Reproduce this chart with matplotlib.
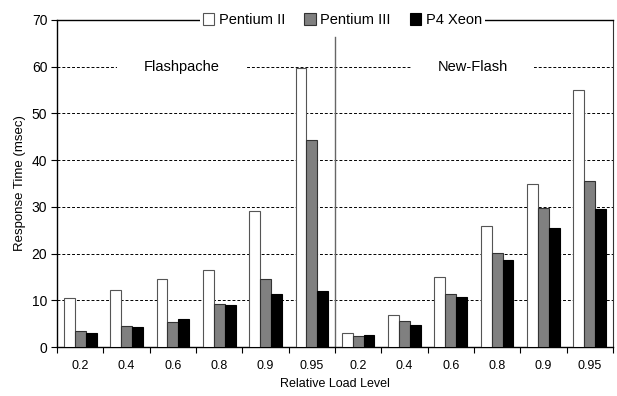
import matplotlib
matplotlib.use("Agg")
import matplotlib.pyplot as plt
import numpy as np

plt.rcParams['font.family'] = ['Liberation Sans', 'DejaVu Sans']

load_levels = ["0.2", "0.4", "0.6", "0.8", "0.9", "0.95"]
groups = ["Flashpache", "New-Flash"]
series_names = ["Pentium II", "Pentium III", "P4 Xeon"]

flashpache_p2 = [10.4, 12.3, 14.6, 16.4, 29.1, 59.7]
flashpache_p3 = [3.5, 4.4, 5.4, 9.3, 14.6, 44.4]
flashpache_p4 = [2.9, 4.2, 5.9, 8.9, 11.4, 11.9]

newflash_p2 = [2.9, 6.9, 14.9, 25.8, 34.9, 55.1]
newflash_p3 = [2.4, 5.6, 11.4, 20.2, 29.7, 35.6]
newflash_p4 = [2.6, 4.8, 10.6, 18.6, 25.4, 29.5]

series = [flashpache_p2 + newflash_p2,
          flashpache_p3 + newflash_p3,
          flashpache_p4 + newflash_p4]
facecolors = ["white", "#808080", "black"]
edgecolors = ["#555555", "#333333", "black"]

fig = plt.figure(figsize=(6.17, 3.96), dpi=100)
ax = fig.add_axes([0.0924, 0.1237, 0.9011, 0.8258])

x = np.arange(len(load_levels) * 2)
w = 0.235
for k, (vals, fc, ec, name) in enumerate(zip(series, facecolors, edgecolors, series_names)):
    ax.bar(x + (k - 1) * w, vals, width=w, facecolor=fc, edgecolor=ec,
           linewidth=0.8, label=name, zorder=3)

ax.set_xlim(-0.5, len(x) - 0.5)
ax.set_ylim(0, 70)
ax.set_yticks(np.arange(0, 71, 10))
for yv in range(10, 70, 10):
    ax.axhline(yv, color="black", linestyle=(0, (3, 2)), linewidth=0.7, zorder=1)

ax.set_xticks(x)
ax.set_xticklabels(load_levels * 2, fontsize=9)
ax.set_xticks(np.arange(-0.5, len(x), 1.0), minor=True)
ax.tick_params(axis="x", which="major", length=0, pad=9)
ax.tick_params(axis="x", which="minor", length=4, direction="out", width=0.8)
ax.tick_params(axis="y", length=4, direction="out", width=0.8, labelsize=10, pad=3)

for s in ["left", "bottom", "top"]:
    ax.spines[s].set_linewidth(1.0)
    ax.spines[s].set_color("black")
ax.spines["right"].set_linewidth(0.8)
ax.spines["right"].set_color("#333333")

# separator between the two systems
ax.plot([5.5, 5.5], [0, 66.4], color="#666666", linewidth=1.0, zorder=2)

ax.text(2.19, 60, groups[0], ha="center", va="center", fontsize=10.5,
        bbox=dict(facecolor="white", edgecolor="none", pad=19), zorder=4)
ax.text(8.47, 60, groups[1], ha="center", va="center", fontsize=10.5,
        bbox=dict(facecolor="white", edgecolor="none", pad=19), zorder=4)

ax.set_xlabel("Relative Load Level", fontsize=9, labelpad=5)
ax.set_ylabel("Response Time (msec)", fontsize=9.5, labelpad=4)

leg = ax.legend(loc="center", bbox_to_anchor=(0.513, 1.0), ncol=3, frameon=True,
                fontsize=10.5, handlelength=0.8, handleheight=0.8, handletextpad=0.3,
                columnspacing=1.3, borderpad=0.2, fancybox=False)
leg.get_frame().set_edgecolor("none")
leg.get_frame().set_facecolor("white")
leg.get_frame().set_alpha(1.0)
leg.set_zorder(5)

fig.savefig("out.png", dpi=100)
